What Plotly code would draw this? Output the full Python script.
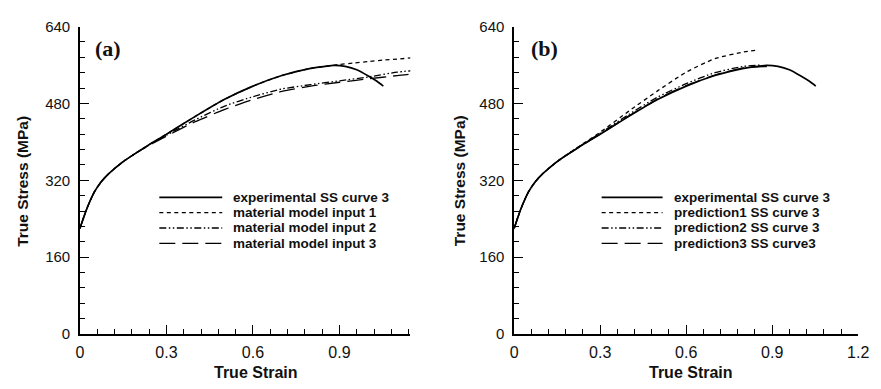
import plotly.graph_objects as go

# ---------------- data ----------------
exp_strain = [0, 0.01, 0.025, 0.05, 0.075, 0.1, 0.15, 0.2, 0.25, 0.3, 0.4, 0.5, 0.6, 0.7,
              0.8, 0.85, 0.88, 0.92, 0.96, 1.0, 1.03, 1.052]
exp_stress = [220, 238, 263, 296, 318, 334, 359, 379, 398, 416, 453, 488, 516, 538,
              553, 557, 559, 557, 550, 537, 526, 516]

in1_strain = [0, 0.01, 0.025, 0.05, 0.075, 0.1, 0.15, 0.2, 0.25, 0.3, 0.4, 0.5, 0.6, 0.7,
              0.8, 0.85, 0.9, 0.95, 1.0, 1.05, 1.1, 1.15]
in1_stress = [220, 238, 263, 296, 318, 334, 359, 379, 398, 416, 453, 488, 516, 538,
              553, 557, 561, 564, 567, 570, 572, 575]

in2_strain = [0, 0.01, 0.025, 0.05, 0.075, 0.1, 0.15, 0.2, 0.25, 0.3, 0.4, 0.5, 0.6, 0.7,
              0.8, 0.9, 1.0, 1.1, 1.15]
in2_stress = [220, 238, 263, 296, 318, 334, 359, 379, 397, 414, 446, 474, 494, 510,
              519, 527, 535, 545, 548]

in3_strain = [0, 0.01, 0.025, 0.05, 0.075, 0.1, 0.15, 0.2, 0.25, 0.3, 0.4, 0.5, 0.6, 0.7,
              0.8, 0.9, 1.0, 1.1, 1.15]
in3_stress = [220, 238, 263, 296, 318, 334, 359, 379, 396, 412, 442, 467, 488, 505,
              516, 524, 531, 538, 541]

p1_strain = [0, 0.01, 0.025, 0.05, 0.075, 0.1, 0.15, 0.2, 0.25, 0.3, 0.4, 0.5, 0.6, 0.7,
             0.8, 0.85]
p1_stress = [220, 238, 263, 296, 318, 334, 359, 380, 400, 420, 464, 506, 545, 573,
             587, 591]

p2_strain = [0, 0.01, 0.025, 0.05, 0.075, 0.1, 0.15, 0.2, 0.25, 0.3, 0.4, 0.5, 0.6, 0.7,
             0.8, 0.86]
p2_stress = [220, 238, 263, 296, 318, 334, 359, 380, 399, 418, 457, 493, 521, 544,
             557, 560]

p3_strain = [0, 0.01, 0.025, 0.05, 0.075, 0.1, 0.15, 0.2, 0.25, 0.3, 0.4, 0.5, 0.6, 0.7,
             0.8, 0.9]
p3_stress = [220, 238, 263, 296, 318, 334, 359, 379, 398, 416, 454, 489, 517, 539,
             554, 557]

names_a = ["experimental SS curve 3", "material model input 1",
           "material model input 2", "material model input 3"]
names_b = ["experimental SS curve 3", "prediction1 SS curve 3",
           "prediction2 SS curve 3", "prediction3 SS curve3"]

y_ticks = [0, 160, 320, 480, 640]
x_ticks_a = [0, 0.3, 0.6, 0.9]
x_ticks_b = [0, 0.3, 0.6, 0.9, 1.2]

# ---------------- styles ----------------
W, H = 881, 389
dashes = ["solid", "4px,3.5px", "7px,2.5px,1.5px,2.5px,1.5px,2.5px", "16px,7px"]
widths = [1.7, 1.3, 1.3, 1.3]
FONT = "Liberation Sans, Arial, Helvetica, sans-serif"

fig = go.Figure()

series_a = [(exp_strain, exp_stress), (in1_strain, in1_stress),
            (in2_strain, in2_stress), (in3_strain, in3_stress)]
series_b = [(exp_strain, exp_stress), (p1_strain, p1_stress),
            (p2_strain, p2_stress), (p3_strain, p3_stress)]

for i, (xs, ys) in enumerate(series_a):
    fig.add_trace(go.Scatter(x=xs, y=ys, mode="lines", name=names_a[i],
                             line=dict(color="black", width=widths[i], dash=dashes[i],
                                       shape="spline", smoothing=0.6),
                             xaxis="x", yaxis="y", showlegend=False))
for i, (xs, ys) in enumerate(series_b):
    fig.add_trace(go.Scatter(x=xs, y=ys, mode="lines", name=names_b[i],
                             line=dict(color="black", width=widths[i], dash=dashes[i],
                                       shape="spline", smoothing=0.6),
                             xaxis="x2", yaxis="y2", showlegend=False))

# axis domains (pixels -> paper)
xa_dom = [77.3 / W, 413.3 / W]
xb_dom = [519.0 / W, 869.0 / W]
y_dom = [(H - 340.0) / H, (H - 18.3) / H]


def xaxis(dom, rng, ticks, anchor):
    return dict(domain=dom, range=rng, anchor=anchor, tickmode="array", tickvals=ticks,
                ticktext=[("0" if t == 0 else f"{t:g}") for t in ticks],
                ticks="inside", ticklen=9, tickwidth=1.2, tickcolor="black",
                minor=dict(dtick=0.06, tick0=0, ticks="inside", ticklen=5,
                           tickwidth=1.2, tickcolor="black"),
                showline=True, linecolor="black", linewidth=1.6, showgrid=False,
                zeroline=False, tickfont=dict(family=FONT, size=16, color="#111"),
                ticklabelstandoff=3, fixedrange=True)


def yaxis(rng, anchor):
    return dict(domain=y_dom, range=rng, anchor=anchor, tickmode="array",
                tickvals=y_ticks, ticks="inside", ticklen=9, tickwidth=1.2,
                tickcolor="black",
                minor=dict(dtick=32, tick0=0, ticks="inside", ticklen=5,
                           tickwidth=1.2, tickcolor="black"),
                showline=True, linecolor="black", linewidth=1.6, showgrid=False,
                zeroline=False, tickfont=dict(family=FONT, size=15, color="#111"),
                ticklabelstandoff=5, fixedrange=True)


fig.update_layout(
    width=W, height=H, autosize=False,
    margin=dict(l=0, r=0, t=0, b=0),
    paper_bgcolor="white", plot_bgcolor="white",
    xaxis=xaxis(xa_dom, [0, 1.1455], x_ticks_a, "y"),
    yaxis=yaxis([0, 640], "x"),
    xaxis2=xaxis(xb_dom, [0, 1.2], x_ticks_b, "y2"),
    yaxis2=yaxis([0, 640], "x2"),
    showlegend=False,
)

annotations = []
shapes = []

# axis titles
for cx, ycx in [(256, 18), (699, 463)]:
    annotations.append(dict(text="<b>True Strain</b>", x=cx / W, y=1 - 380 / H,
                            xref="paper", yref="paper", showarrow=False,
                            xanchor="center", yanchor="middle",
                            font=dict(family=FONT, size=16, color="#111")))
    annotations.append(dict(text="<b>True Stress (MPa)</b>", x=ycx / W, y=1 - 180 / H,
                            xref="paper", yref="paper", showarrow=False, textangle=-90,
                            xanchor="center", yanchor="middle",
                            font=dict(family=FONT, size=15.5, color="#111")))

# panel labels
for lbl, cx in [("(a)", 106), ("(b)", 550)]:
    annotations.append(dict(text=f"<b>{lbl}</b>", x=cx / W, y=1 - 41 / H,
                            xref="paper", yref="paper", showarrow=False,
                            xanchor="center", yanchor="middle",
                            font=dict(family="Liberation Serif, Times New Roman, serif",
                                      size=22, color="#111")))

# legends (key line + label)
rows = [197, 213, 229, 245]
for names, (lx0, lx1, tx) in [(names_a, (158, 222, 231)), (names_b, (608, 670, 680))]:
    for i, nm in enumerate(names):
        yy = 1 - rows[i] / H
        shapes.append(dict(type="line", xref="paper", yref="paper",
                           x0=lx0 / W, x1=lx1 / W, y0=yy, y1=yy,
                           line=dict(color="black", width=widths[i], dash=dashes[i])))
        annotations.append(dict(text=f"<b>{nm}</b>", x=tx / W, y=yy,
                                xref="paper", yref="paper", showarrow=False,
                                xanchor="left", yanchor="middle",
                                font=dict(family=FONT, size=13.5, color="#111")))

fig.update_layout(annotations=annotations, shapes=shapes)

fig.write_html("out.html", config={"displayModeBar": False})
